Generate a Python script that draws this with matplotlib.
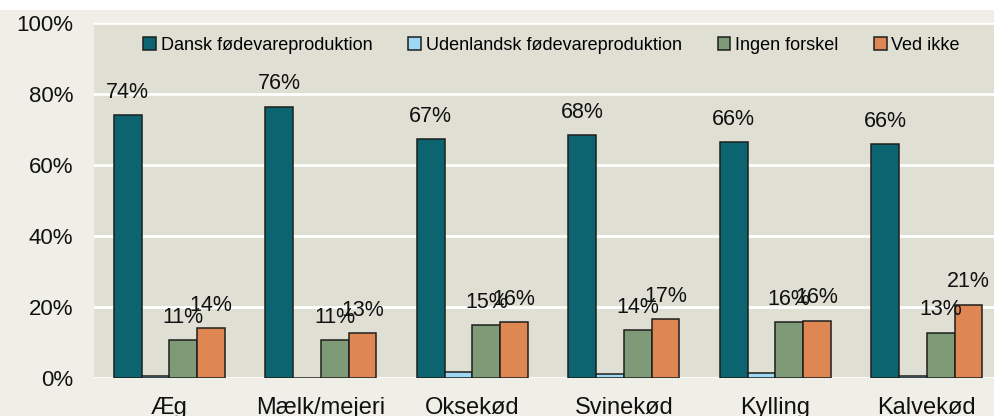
import matplotlib as mpl
import matplotlib.pyplot as plt
import numpy as np
from matplotlib.patches import Patch, Rectangle

# data
categories = ["Æg", "Mælk/mejeri", "Oksekød", "Svinekød", "Kylling", "Kalvekød"]
series_names = ["Dansk fødevareproduktion", "Udenlandsk fødevareproduktion",
                "Ingen forskel", "Ved ikke"]
dansk       = [74.1, 76.4, 67.3, 68.4, 66.4, 65.9]
udenlandsk  = [0.5, 0.1, 1.7, 1.1, 1.3, 0.5]
ingen       = [10.6, 10.6, 14.9, 13.5, 15.7, 12.7]
ved_ikke    = [14.1, 12.6, 15.7, 16.6, 16.1, 20.6]
yticks      = [0, 20, 40, 60, 80, 100]

# style
FIG_BG  = "#EFEEE7"
AX_BG   = "#E0DFD4"
COLORS  = ["#0B6470", "#9DD7F3", "#7E9A77", "#DE8753"]
EDGE    = "#1E1E1E"
SHOW_LABEL = [True, False, True, True]

mpl.rcParams.update({
    "font.family": ["Liberation Sans", "DejaVu Sans"],
})

fig = plt.figure(figsize=(9.95, 4.16), dpi=100, facecolor=FIG_BG)
fig.patches.append(Rectangle((0, 1 - 10 / 416), 1, 10 / 416, transform=fig.transFigure,
                             facecolor="white", edgecolor="none", zorder=0))
ax = fig.add_axes([94 / 995, 38 / 416, 901 / 995, 355 / 416])
ax.set_facecolor(AX_BG)

x = np.arange(len(categories))
bw = 0.183
all_series = [dansk, udenlandsk, ingen, ved_ikke]

for i, vals in enumerate(all_series):
    xs = x + (i - 1.5) * bw
    ax.bar(xs, vals, width=bw, color=COLORS[i], edgecolor=EDGE, linewidth=1.1, zorder=3)
    if SHOW_LABEL[i]:
        for xi, v in zip(xs, vals):
            ax.annotate(f"{int(v + 0.5)}%", (xi, v), xytext=(0, 16.5),
                        textcoords="offset points", ha="center", va="center",
                        fontsize=15.5, color="#111111", zorder=5)

ax.set_xlim(-0.498, 5.45)
ax.set_ylim(0, 100)
ax.set_yticks(yticks)
ax.set_yticklabels([f"{t}%" for t in yticks])
ax.set_xticks(x)
ax.set_xticklabels(categories)
ax.tick_params(axis="y", length=0, pad=15, labelsize=16, colors="#111111")
ax.tick_params(axis="x", length=0, pad=14, labelsize=17, colors="#111111")
ax.yaxis.grid(True, color="white", linewidth=2, zorder=1)
ax.set_axisbelow(True)
for s in ax.spines.values():
    s.set_visible(False)

handles = [Patch(facecolor=c, edgecolor=EDGE, linewidth=1.1, label=n)
           for c, n in zip(COLORS, series_names)]
ax.legend(handles=handles, loc="center", bbox_to_anchor=(0.508, 0.938), ncol=4,
          frameon=False, fontsize=13, handlelength=0.7, handleheight=0.7,
          handletextpad=0.25, columnspacing=2.0, borderaxespad=0)

fig.savefig("out.png", dpi=100, facecolor=FIG_BG)
